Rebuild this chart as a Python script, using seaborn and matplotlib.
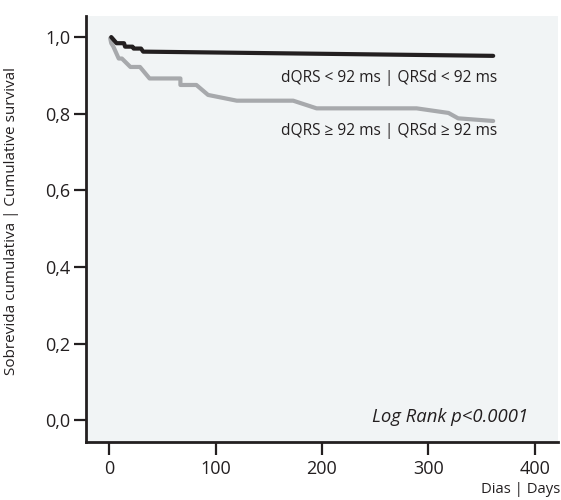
import matplotlib
matplotlib.use("Agg")
import matplotlib.pyplot as plt
import seaborn as sns
import pandas as pd

# Kaplan-Meier style survival traces (days, cumulative survival)
days_low = [2, 7, 14, 15, 22, 23, 30, 32, 361]
surv_low = [1.000, 0.984, 0.984, 0.975, 0.975, 0.970, 0.970, 0.962, 0.951]

days_high = [1, 2, 4, 9, 12, 20, 29, 38, 67, 67, 82, 93, 120, 173, 195, 289, 319, 328, 361]
surv_high = [0.997, 0.984, 0.975, 0.944, 0.944, 0.922, 0.922, 0.892, 0.892, 0.875,
             0.875, 0.849, 0.834, 0.834, 0.814, 0.814, 0.802, 0.788, 0.781]

label_low = "dQRS < 92 ms | QRSd < 92 ms"
label_high = "dQRS ≥ 92 ms | QRSd ≥ 92 ms"

x_ticks = [0, 100, 200, 300, 400]
y_ticks = [0.0, 0.2, 0.4, 0.6, 0.8, 1.0]
y_tick_labels = ["0,0", "0,2", "0,4", "0,6", "0,8", "1,0"]

df = pd.concat([
    pd.DataFrame({"dias": days_low, "sobrevida": surv_low, "grupo": label_low}),
    pd.DataFrame({"dias": days_high, "sobrevida": surv_high, "grupo": label_high}),
], ignore_index=True)

sns.set_theme(style="white")
plt.rcParams["font.family"] = ["Open Sans", "DejaVu Sans"]

fig = plt.figure(figsize=(5.61, 5.0), dpi=100)
ax = fig.add_axes([0.1528, 0.1166, 0.842, 0.8514])
ax.set_facecolor("#f1f4f5")

palette = {label_low: "#231f20", label_high: "#a7a9ac"}
sns.lineplot(data=df, x="dias", y="sobrevida", hue="grupo", palette=palette,
             hue_order=[label_high, label_low], sort=False, estimator=None,
             linewidth=3.0, legend=False, ax=ax)

ax.set_xlim(-22, 422)
ax.set_ylim(-0.056, 1.055)
ax.set_xticks(x_ticks)
ax.set_xticklabels([str(t) for t in x_ticks])
ax.set_yticks(y_ticks)
ax.set_yticklabels(y_tick_labels)

for side in ("top", "right"):
    ax.spines[side].set_visible(False)
for side in ("left", "bottom"):
    ax.spines[side].set_color("#231f20")
    ax.spines[side].set_linewidth(2.0)

ax.tick_params(axis="both", direction="out", length=9, width=1.6,
               color="#231f20", labelsize=13, labelcolor="#231f20",
               left=True, bottom=True)
ax.tick_params(axis="y", pad=2)
ax.tick_params(axis="x", pad=4)

ax.set_xlabel("")
ax.set_ylabel("Sobrevida cumulativa | Cumulative survival", fontsize=11,
              color="#231f20")
ax.yaxis.set_label_coords(-0.141, 0.518)

fig.text(0.998, 0.014, "Dias | Days", ha="right", va="baseline",
         fontsize=10.7, color="#231f20")

ax.text(365, 0.893, label_low, ha="right", va="center", fontsize=11.2, color="#231f20")
ax.text(365, 0.755, label_high, ha="right", va="center", fontsize=11.2, color="#231f20")

ax.text(394, 0.009, "Log Rank p<0.0001", ha="right", va="center", fontsize=13.3,
        style="italic", color="#231f20")

fig.savefig("out.png", dpi=100)
